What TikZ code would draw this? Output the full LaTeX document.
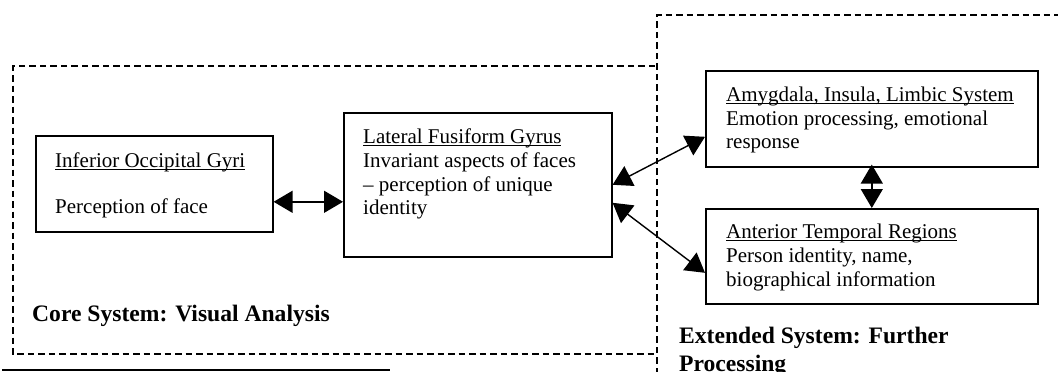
\documentclass[tikz,border=0pt]{standalone}
\usepackage{fontspec}
\setmainfont{Liberation Serif}
\usetikzlibrary{arrows.meta}
\newlength\myulw
\newcommand\myul[1]{\settowidth\myulw{#1}\rlap{\rule[-3pt]{\myulw}{1.2pt}}#1}
\begin{document}
\begin{tikzpicture}[x=1pt,y=-1pt,
  boxshape/.style={draw,line width=1.6pt,inner sep=0pt,anchor=north west},
  txt/.style={anchor=base west,inner sep=0pt,font=\fontsize{21}{24}\selectfont},
  lbl/.style={anchor=base west,inner sep=0pt,font=\fontsize{23.6}{28}\selectfont\bfseries},
  region/.style={draw,dash pattern=on 6.5pt off 4pt,line width=1.6pt},
  biarrow/.style={line width=1.4pt,{Triangle[length=19pt,width=22pt]}-{Triangle[length=19pt,width=22pt]}}
]
\useasboundingbox (0,0) rectangle (1058,372);
\clip (0,0) rectangle (1058,372);
% regions
\draw[region] (655,66) -- (13,66) -- (13,354) -- (655,354);
\draw[region] (657,395) -- (657,15) -- (1075,15);
\draw[line width=1.8pt] (2,370) -- (390,370);
% boxes
\node[boxshape,minimum width=237pt,minimum height=96pt] (iog) at (35,135) {};
\node[boxshape,minimum width=268pt,minimum height=144pt] (lfg) at (343,112) {};
\node[boxshape,minimum width=332pt,minimum height=96pt] (amy) at (705,70) {};
\node[boxshape,minimum width=332pt,minimum height=95pt] (atr) at (705,208) {};
% texts
\node[txt] (t1) at (55,167) {\myul{Inferior Occipital Gyri}};
\node[txt] (t2) at (55,213) {Perception of face};
\node[txt] (t3) at (363,143) {\myul{Lateral Fusiform Gyrus}};
\node[txt] (t4) at (363,167) {Invariant aspects of faces};
\node[txt] (t5) at (363,191) {– perception of unique};
\node[txt] (t6) at (363,214) {identity};
\node[txt] (t7) at (726,101) {\myul{Amygdala, Insula, Limbic System}};
\node[txt] (t8) at (726,125) {Emotion processing, emotional};
\node[txt] (t9) at (726,148) {response};
\node[txt] (t10) at (726,238) {\myul{Anterior Temporal Regions}};
\node[txt] (t11) at (726,262) {Person identity, name,};
\node[txt] (t12) at (726,286) {biographical information};
\node[lbl] (core) at (32,321) {Core System: Visual Analysis};
\node[lbl] (ext1) at (679,343) {Extended System: Further};
\node[lbl] (ext2) at (679,371) {Processing};
% connectors
\draw[biarrow] ([yshift=-18pt]iog.east) -- ([yshift=-17pt]lfg.west);
\draw[biarrow] (lfg.east) -- ([yshift=-18pt]amy.west);
\draw[biarrow] ([yshift=-18pt]lfg.east) -- ([yshift=-16.5pt]atr.west);
\draw[biarrow,shorten <=-3pt] (amy.south) -- (atr.north);
\end{tikzpicture}
\end{document}
